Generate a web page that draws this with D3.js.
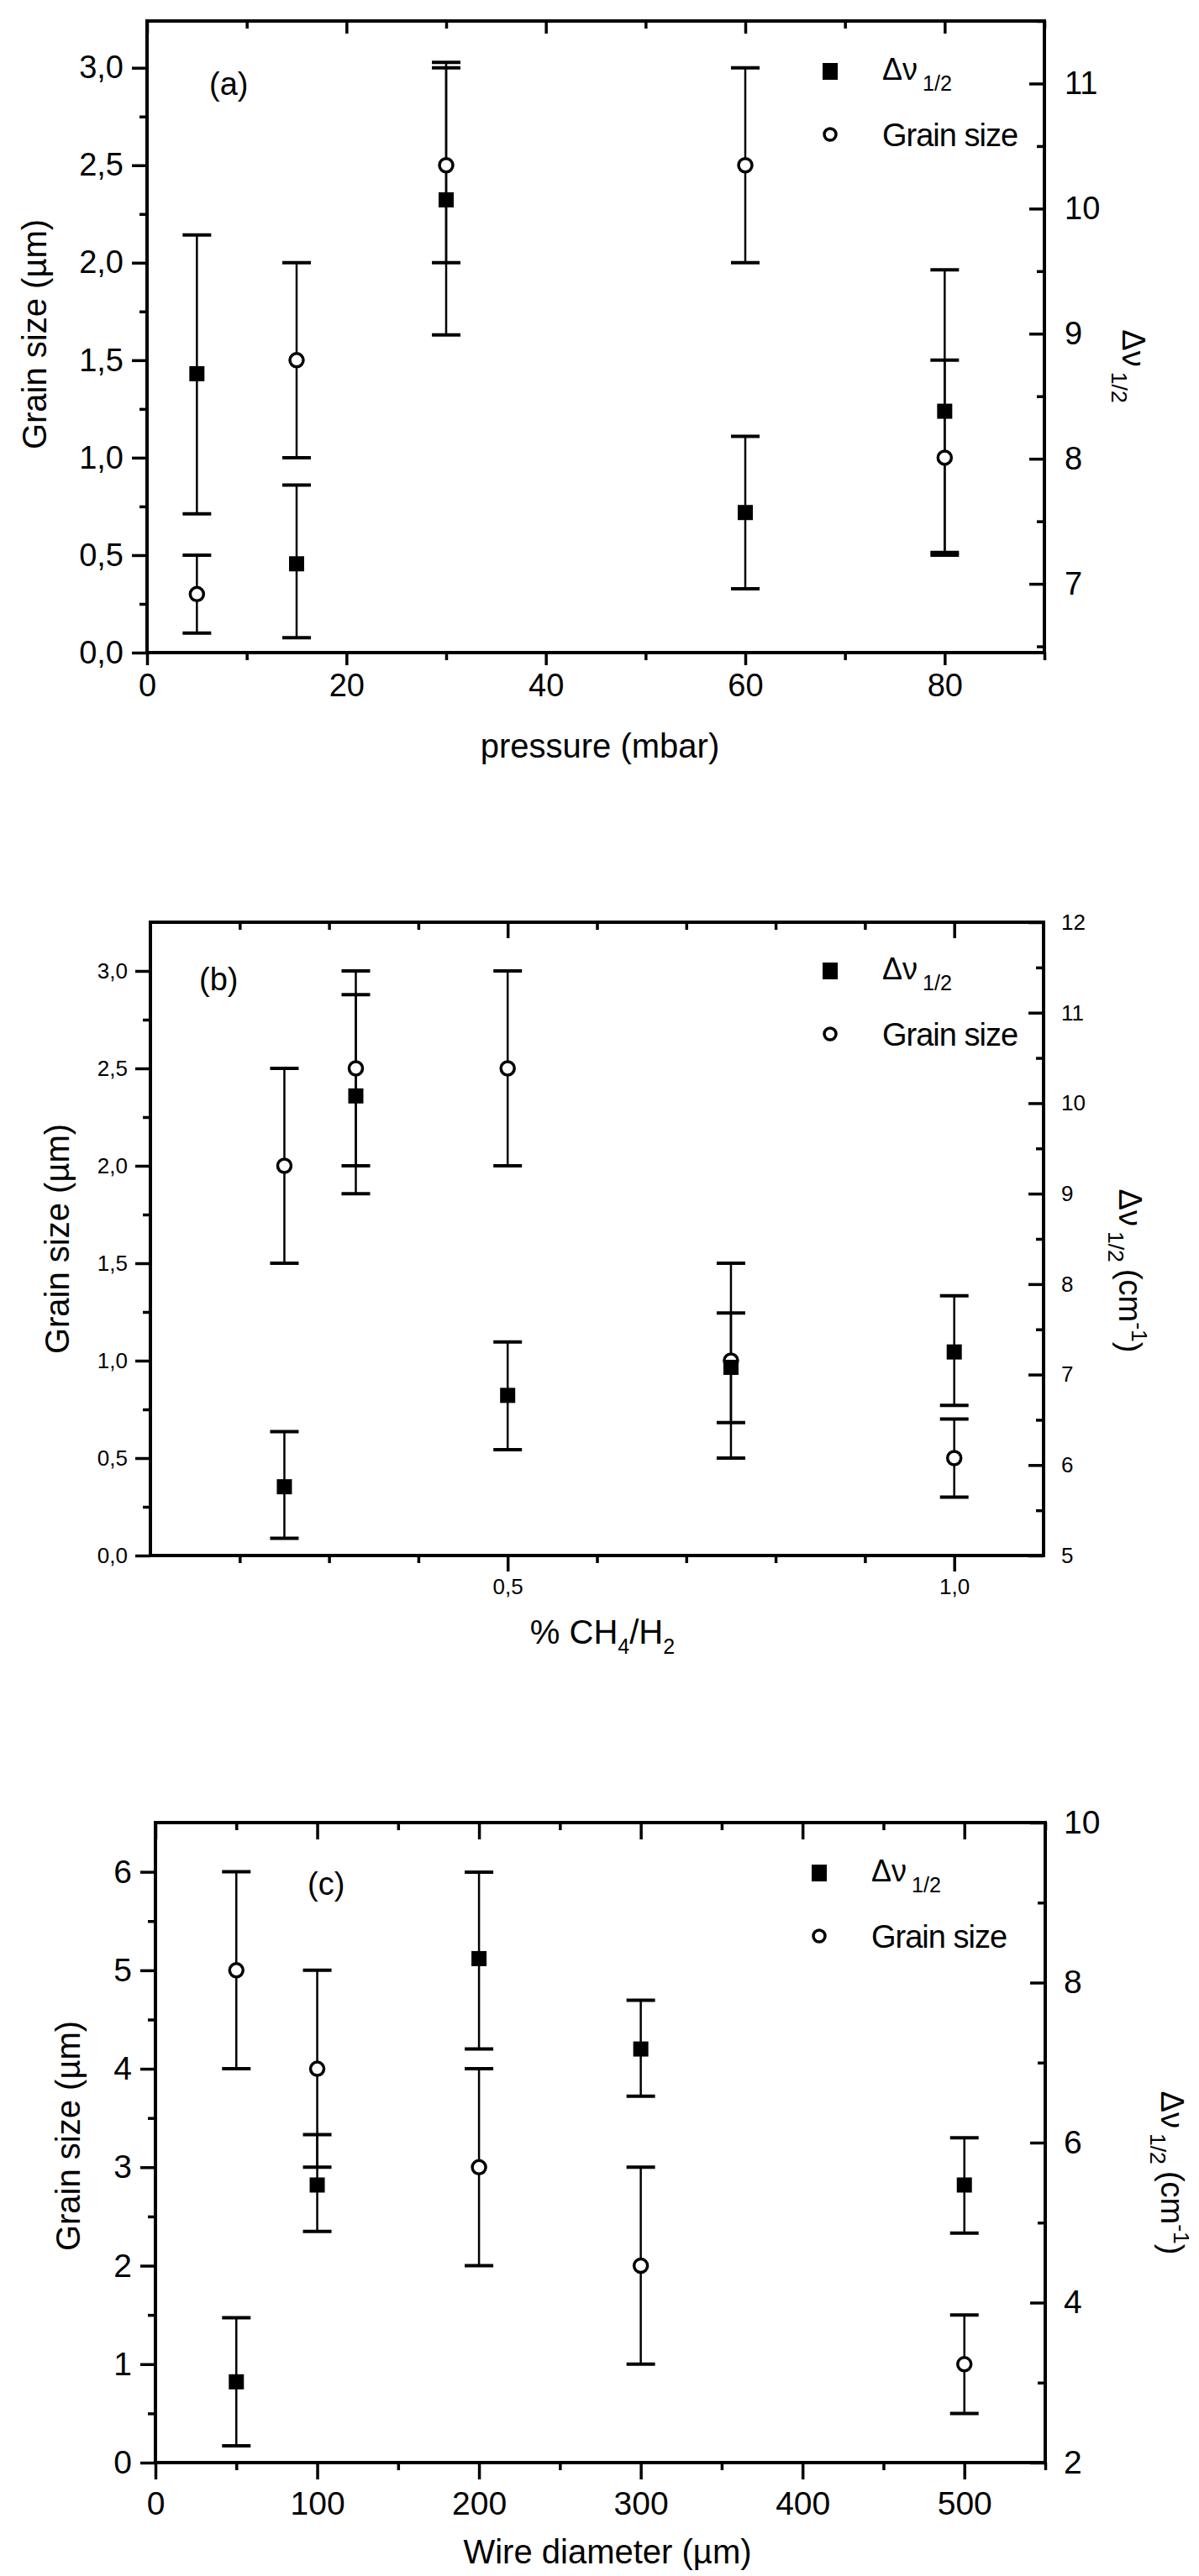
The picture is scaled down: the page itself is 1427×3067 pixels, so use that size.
<!DOCTYPE html>
<html>
<head>
<meta charset="utf-8">
<script src="https://cdn.jsdelivr.net/npm/d3@7"></script>
<style>
  body { margin: 0; background: #fff; }
  svg text { font-family: "Liberation Sans", Arial, sans-serif; fill: #000; }
  .axis path { display: none; }
  .axis line { stroke: #000; stroke-width: 3.5; }
</style>
</head>
<body>
<script>
// ---- panel (a): pressure ----
var pressure = [5, 15, 30, 60, 80];
var grainA = [0.3, 1.5, 2.5, 2.5, 1.0];
var grainALow = [0.1, 1.0, 2.0, 2.0, 0.5];
var grainAHigh = [0.5, 2.0, 3.0, 3.0, 1.5];
var dnuA = [8.68, 7.16, 10.07, 7.57, 8.38];
var dnuALow = [7.56, 6.57, 8.99, 6.96, 7.25];
var dnuAHigh = [9.79, 7.79, 11.17, 8.18, 9.51];

// ---- panel (b): % CH4/H2 ----
var ratio = [0.25, 0.33, 0.5, 0.75, 1.0];
var grainB = [2.0, 2.5, 2.5, 1.0, 0.5];
var grainBLow = [1.5, 2.0, 2.0, 0.5, 0.3];
var grainBHigh = [2.5, 3.0, 3.0, 1.5, 0.7];
var dnuB = [5.76, 10.08, 6.77, 7.08, 7.25];
var dnuBLow = [5.19, 9.0, 6.17, 6.47, 6.66];
var dnuBHigh = [6.37, 11.2, 7.36, 7.68, 7.87];

// ---- panel (c): wire diameter ----
var wire = [50, 100, 200, 300, 500];
var grainC = [5, 4, 3, 2, 1];
var grainCLow = [4, 3, 2, 1, 0.5];
var grainCHigh = [6, 5, 4, 3, 1.5];
var dnuC = [3.01, 5.47, 8.30, 7.17, 5.47];
var dnuCLow = [2.21, 4.89, 7.17, 6.58, 4.87];
var dnuCHigh = [3.81, 6.10, 9.38, 7.78, 6.06];

// tick labels
var pressureTicks = [0, 20, 40, 60, 80];
var ratioTicks = [0.5, 1.0];
var wireTicks = [0, 100, 200, 300, 400, 500];
var grainTicksAB = [0, 0.5, 1.0, 1.5, 2.0, 2.5, 3.0];
var grainTicksC = [0, 1, 2, 3, 4, 5, 6];
var dnuTicksA = [7, 8, 9, 10, 11];
var dnuTicksB = [5, 6, 7, 8, 9, 10, 11, 12];
var dnuTicksC = [2, 4, 6, 8, 10];


var W = 1427, H = 3067;

var svg = d3.select('body').append('svg')
  .attr('width', W)
  .attr('height', H);

var comma1 = function(d) { return d3.format('.1f')(d).replace('.', ','); };
var plain = function(d) { return String(d); };

function translation(x, y) {
  return 'translate(' + x + ',' + y + ')';
}

function zip(xs, v, lo, hi) {
  return xs.map(function(d, i) { return {x: d, v: v[i], lo: lo[i], hi: hi[i]}; });
}

// panel layouts (pixel boxes + styling)
var panels = [
  {
    label: '(a)', labelPos: [249, 113],
    left: 175, right: 1243, top: 25, bottom: 777,
    xDomain: [0, 90], yDomain: [0, 3.24], rDomain: [6.45, 11.5],
    xTicks: pressureTicks, xMinor: d3.range(10, 91, 20), xFormat: plain,
    yTicks: grainTicksAB, yMinor: d3.range(0.25, 3.2, 0.5), yFormat: comma1,
    rTicks: dnuTicksA, rMinor: d3.range(6.5, 11.6, 1), rFormat: plain,
    tickFont: 38, xPad: 10, xLen: 15, yPad: 10, rPad: 24,
    grain: zip(pressure, grainA, grainALow, grainAHigh),
    dnu: zip(pressure, dnuA, dnuALow, dnuAHigh),
    legend: [988, 85],
    xTitle: ['pressure (mbar)'], xTitlePos: [714, 902],
    yTitlePos: [55, 398], rTitlePos: [1336, 436], rUnits: false
  },
  {
    label: '(b)', labelPos: [237, 1179],
    left: 179, right: 1242, top: 1098, bottom: 1852,
    xDomain: [0.1, 1.1], yDomain: [0, 3.25], rDomain: [5, 12],
    xTicks: ratioTicks, xMinor: [0.2, 0.3, 0.4, 0.6, 0.7, 0.8, 0.9], xFormat: comma1,
    yTicks: grainTicksAB, yMinor: d3.range(0.25, 3.2, 0.5), yFormat: comma1,
    rTicks: dnuTicksB, rMinor: d3.range(5.5, 12, 1), rFormat: plain,
    tickFont: 26, xPad: 9, xLen: 19, yPad: 9, rPad: 21,
    grain: zip(ratio, grainB, grainBLow, grainBHigh),
    dnu: zip(ratio, dnuB, dnuBLow, dnuBHigh),
    legend: [988, 1156],
    xTitle: 'ch', xTitlePos: [717, 1957],
    yTitlePos: [82, 1475], rTitlePos: [1332, 1513], rUnits: true
  },
  {
    label: '(c)', labelPos: [366, 2256],
    left: 185, right: 1244, top: 2170, bottom: 2932,
    xDomain: [0, 550], yDomain: [0, 6.5], rDomain: [2, 10],
    xTicks: wireTicks, xMinor: d3.range(50, 551, 100), xFormat: plain,
    yTicks: grainTicksC, yMinor: d3.range(0.5, 6.5, 1), yFormat: plain,
    rTicks: dnuTicksC, rMinor: d3.range(3, 10, 2), rFormat: plain,
    tickFont: 39, xPad: 14, xLen: 20, yPad: 10, rPad: 22,
    grain: zip(wire, grainC, grainCLow, grainCHigh),
    dnu: zip(wire, dnuC, dnuCLow, dnuCHigh),
    legend: [975, 2230],
    xTitle: ['Wire diameter (\u00b5m)'], xTitlePos: [723, 3052],
    yTitlePos: [95, 2543], rTitlePos: [1382, 2587], rUnits: true
  }
];

function addAxis(g, axis, tx, ty, fontSize) {
  var a = g.append('g')
    .attr('class', 'axis')
    .attr('transform', translation(tx, ty))
    .call(axis);
  a.attr('font-family', null).attr('font-size', null);
  a.selectAll('text').style('font-size', fontSize + 'px');
  return a;
}

// delta-nu 1/2 label, optionally with units
function dnuLabel(t, size, units) {
  t.append('tspan').text('\u0394\u03bd');
  t.append('tspan').attr('dx', 6).attr('dy', size * 0.35).style('font-size', (size * 0.7) + 'px').text('1/2');
  if (units) {
    t.append('tspan').attr('dx', 8).attr('dy', -size * 0.35).text('(cm');
    t.append('tspan').attr('dy', -size * 0.4).style('font-size', (size * 0.7) + 'px').text('-1');
    t.append('tspan').attr('dy', size * 0.4).text(')');
  }
}

function drawPanel(p) {
  var x = d3.scaleLinear().domain(p.xDomain).range([p.left, p.right]);
  var y = d3.scaleLinear().domain(p.yDomain).range([p.bottom, p.top]);
  var yR = d3.scaleLinear().domain(p.rDomain).range([p.bottom, p.top]);
  var g = svg.append('g');

  // bottom axis (outward ticks) + minor
  addAxis(g, d3.axisBottom(x).tickValues(p.xTicks).tickSize(p.xLen).tickPadding(p.xPad).tickFormat(p.xFormat), 0, p.bottom, p.tickFont);
  addAxis(g, d3.axisBottom(x).tickValues(p.xMinor).tickSize(9).tickFormat(''), 0, p.bottom, p.tickFont);
  // top axis mirrored inward
  addAxis(g, d3.axisTop(x).tickValues(p.xTicks).tickSize(-p.xLen).tickFormat(''), 0, p.top, p.tickFont);
  addAxis(g, d3.axisTop(x).tickValues(p.xMinor).tickSize(-9).tickFormat(''), 0, p.top, p.tickFont);

  // left axis (outward)
  addAxis(g, d3.axisLeft(y).tickValues(p.yTicks).tickSize(18).tickPadding(p.yPad).tickFormat(p.yFormat), p.left, 0, p.tickFont);
  addAxis(g, d3.axisLeft(y).tickValues(p.yMinor).tickSize(9).tickFormat(''), p.left, 0, p.tickFont);

  // right axis (inward ticks, labels outside)
  addAxis(g, d3.axisRight(yR).tickValues(p.rTicks).tickSize(-18).tickPadding(p.rPad).tickFormat(p.rFormat), p.right, 0, p.tickFont)
    .selectAll('text').attr('text-anchor', 'start');
  addAxis(g, d3.axisRight(yR).tickValues(p.rMinor).tickSize(-9).tickFormat(''), p.right, 0, p.tickFont);

  // frame
  g.append('rect')
    .attr('x', p.left).attr('y', p.top)
    .attr('width', p.right - p.left).attr('height', p.bottom - p.top)
    .attr('fill', 'none').attr('stroke', '#000').attr('stroke-width', 4);

  // error bars
  function errorBars(data, scale) {
    var eb = g.append('g').selectAll('g').data(data).enter().append('g');
    eb.append('line')
      .attr('x1', function(d) { return x(d.x); }).attr('x2', function(d) { return x(d.x); })
      .attr('y1', function(d) { return scale(d.lo); }).attr('y2', function(d) { return scale(d.hi); })
      .attr('stroke', '#000').attr('stroke-width', 2.5);
    ['lo', 'hi'].forEach(function(k) {
      eb.append('line')
        .attr('x1', function(d) { return x(d.x) - 17; }).attr('x2', function(d) { return x(d.x) + 17; })
        .attr('y1', function(d) { return scale(d[k]); }).attr('y2', function(d) { return scale(d[k]); })
        .attr('stroke', '#000').attr('stroke-width', 4);
    });
  }
  errorBars(p.grain, y);
  errorBars(p.dnu, yR);

  // grain size: open circles
  g.append('g').selectAll('circle').data(p.grain).enter().append('circle')
    .attr('cx', function(d) { return x(d.x); })
    .attr('cy', function(d) { return y(d.v); })
    .attr('r', 8)
    .attr('fill', '#fff').attr('stroke', '#000').attr('stroke-width', 3.5);

  // delta nu: filled squares
  g.append('g').selectAll('rect').data(p.dnu).enter().append('rect')
    .attr('x', function(d) { return x(d.x) - 9; })
    .attr('y', function(d) { return yR(d.v) - 9; })
    .attr('width', 18).attr('height', 18)
    .attr('fill', '#000');

  // legend
  var lx = p.legend[0], ly = p.legend[1];
  g.append('rect').attr('x', lx - 9).attr('y', ly - 10).attr('width', 18).attr('height', 20).attr('fill', '#000');
  g.append('circle').attr('cx', lx).attr('cy', ly + 75).attr('r', 7)
    .attr('fill', '#fff').attr('stroke', '#000').attr('stroke-width', 3.5);
  dnuLabel(g.append('text').attr('x', lx + 62).attr('y', ly + 10).style('font-size', '36px'), 36, false);
  g.append('text').attr('x', lx + 62).attr('y', ly + 89).style('font-size', '38px')
    .style('letter-spacing', '-1px').text('Grain size');

  // panel label
  g.append('text').attr('x', p.labelPos[0]).attr('y', p.labelPos[1]).style('font-size', '38px').text(p.label);

  // x title
  var xt = g.append('text')
    .attr('x', p.xTitlePos[0]).attr('y', p.xTitlePos[1])
    .attr('text-anchor', 'middle').style('font-size', '40px');
  if (p.xTitle === 'ch') {
    xt.append('tspan').text('% CH');
    xt.append('tspan').attr('dy', 12).style('font-size', '25px').text('4');
    xt.append('tspan').attr('dy', -12).text('/H');
    xt.append('tspan').attr('dy', 12).style('font-size', '25px').text('2');
  } else {
    xt.text(p.xTitle[0]);
  }

  // left title
  g.append('text')
    .attr('transform', translation(p.yTitlePos[0], p.yTitlePos[1]) + ' rotate(-90)')
    .attr('text-anchor', 'middle').style('font-size', '40px')
    .text('Grain size (\u00b5m)');

  // right title (reads top to bottom)
  var rt = g.append('text')
    .attr('transform', translation(p.rTitlePos[0], p.rTitlePos[1]) + ' rotate(90)')
    .attr('text-anchor', 'middle').style('font-size', '38px');
  dnuLabel(rt, 38, p.rUnits);
}

panels.forEach(drawPanel);
</script>
</body>
</html>
